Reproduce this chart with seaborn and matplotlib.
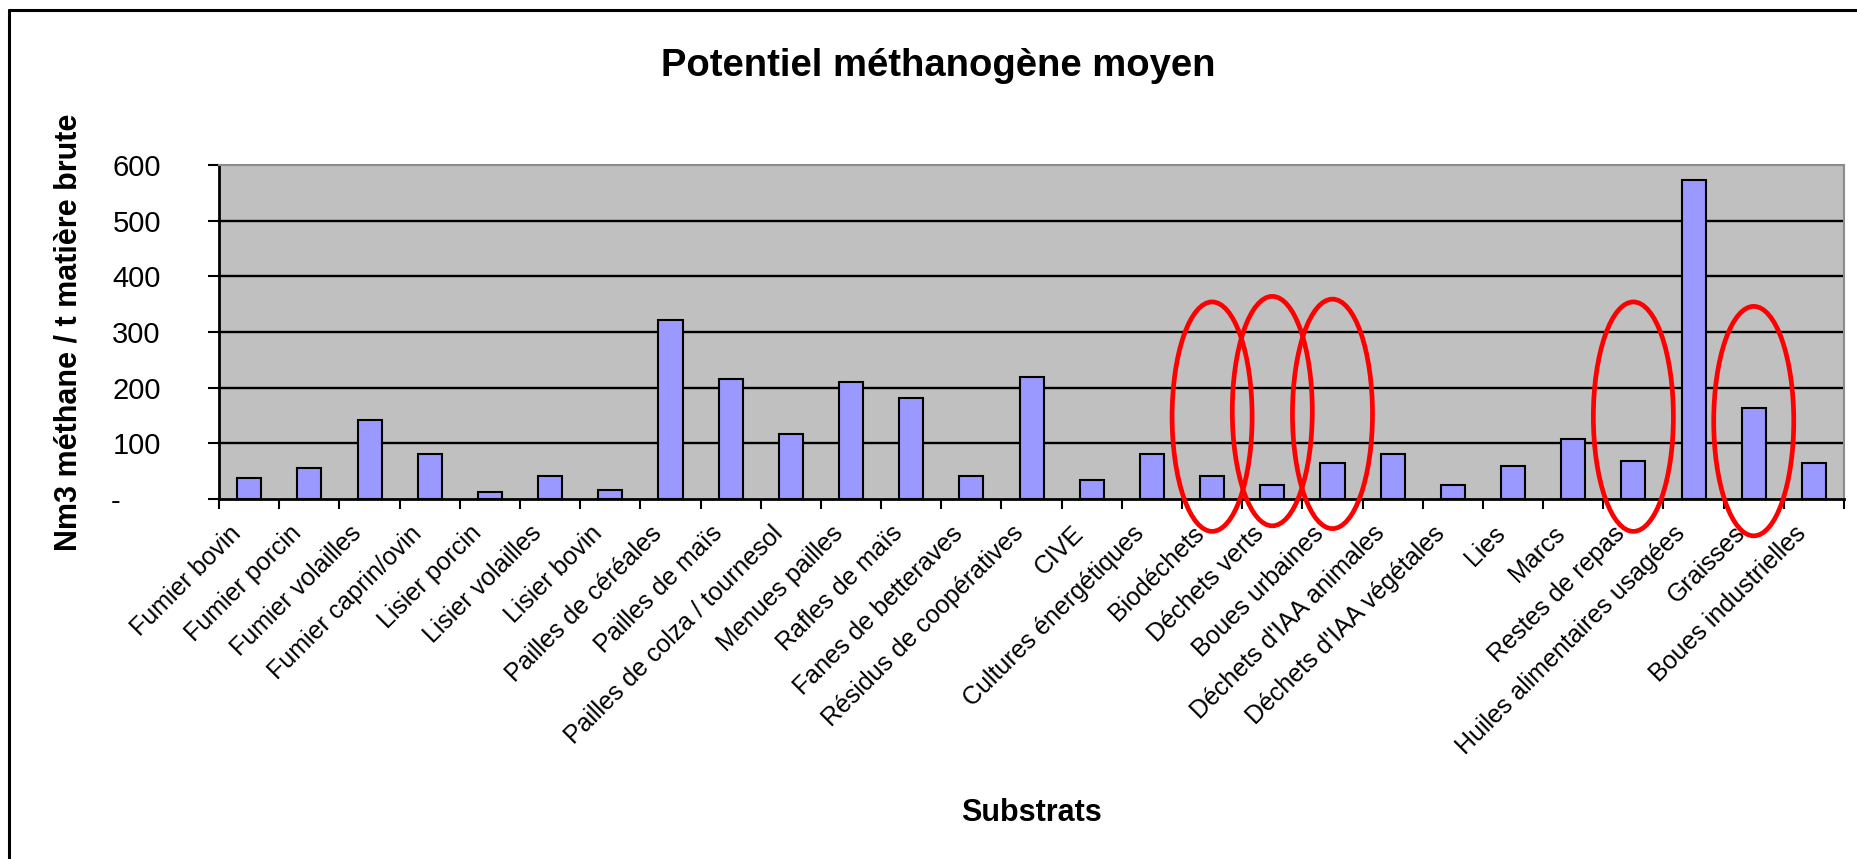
import matplotlib
matplotlib.use("Agg")
import matplotlib.pyplot as plt
import matplotlib.transforms as mtransforms
import seaborn as sns
from matplotlib.patches import Ellipse
from matplotlib.lines import Line2D

# Data
substrats = [
    "Fumier bovin", "Fumier porcin", "Fumier volailles", "Fumier caprin/ovin",
    "Lisier porcin", "Lisier volailles", "Lisier bovin", "Pailles de céréales",
    "Pailles de maïs", "Pailles de colza / tournesol", "Menues pailles",
    "Rafles de maïs", "Fanes de betteraves", "Résidus de coopératives", "CIVE",
    "Cultures énergétiques", "Biodéchets", "Déchets verts", "Boues urbaines",
    "Déchets d'IAA animales", "Déchets d'IAA végétales", "Lies", "Marcs",
    "Restes de repas", "Huiles alimentaires usagées", "Graisses",
    "Boues industrielles",
]
potentiel = [38, 55, 142, 81, 13, 42, 17, 322, 215, 116, 211, 181, 42, 219,
             34, 81, 42, 25, 64, 81, 25, 60, 107, 68, 573, 164, 64]
y_ticks = [0, 100, 200, 300, 400, 500, 600]
y_tick_labels = ["-     ", "100", "200", "300", "400", "500", "600"]
surlignes = ["Biodéchets", "Déchets verts", "Boues urbaines",
             "Restes de repas", "Graisses"]

sns.set_style("white")
plt.rcParams["font.family"] = ["Liberation Sans", "DejaVu Sans"]
plt.rcParams["text.color"] = "black"
plt.rcParams["axes.labelcolor"] = "black"
plt.rcParams["xtick.color"] = "black"
plt.rcParams["ytick.color"] = "black"

fig = plt.figure(figsize=(18.57, 8.59), dpi=100)
ax = fig.add_axes([0.118, 0.419, 0.875, 0.389])

sns.barplot(x=substrats, y=potentiel, color="#9999FF", saturation=1,
            edgecolor="black", linewidth=1.5, width=0.4, ax=ax, zorder=3)

ax.set_facecolor("#C0C0C0")
ax.set_xlim(-0.5, len(substrats) - 0.5)
ax.set_ylim(0, 600)
ax.set_axisbelow(True)
for v in y_ticks[1:-1]:
    ax.axhline(v, color="black", lw=1.7, zorder=1)

for side in ["left", "bottom"]:
    ax.spines[side].set_color("black")
    ax.spines[side].set_linewidth(2)
for side in ["top", "right"]:
    ax.spines[side].set_color("#8C8C8C")
    ax.spines[side].set_linewidth(1.5)

ax.set_yticks(y_ticks)
ax.set_yticklabels(y_tick_labels, fontsize=21)
ax.tick_params(axis="y", direction="out", length=8, width=1.5, pad=34,
               color="black", left=True)

# tick marks on category boundaries, labels on bar centres
ax.set_xticks(range(len(substrats)))
ax.set_xticklabels(substrats, rotation=45, ha="right", va="center",
                   rotation_mode="anchor", fontsize=18)
ax.tick_params(axis="x", which="major", length=0, pad=22)
ax.set_xticks([i - 0.5 for i in range(len(substrats) + 1)], minor=True)
ax.tick_params(axis="x", which="minor", direction="out", length=7,
               width=1.5, color="black", bottom=True)
shift = mtransforms.ScaledTranslation(-0.12, 0, fig.dpi_scale_trans)
for lab in ax.get_xticklabels():
    lab.set_transform(lab.get_transform() + shift)

ax.set_xlabel("Substrats", fontsize=22, fontweight="bold")
ax.xaxis.set_label_coords(0.5, -0.895)
ax.set_ylabel("Nm3 méthane / t matière brute", fontsize=22, fontweight="bold")
ax.yaxis.set_label_coords(-0.0835, 0.5)

fig.text(0.505, 0.923, "Potentiel méthanogène moyen", ha="center",
         va="center", fontsize=27.5, fontweight="bold")

# red ellipses drawn around highlighted substrates
centres = [148, 158, 153, 148, 140]
for nom, c in zip(surlignes, centres):
    i = substrats.index(nom)
    ax.add_patch(Ellipse((i, c), width=1.33, height=412, fill=False,
                         edgecolor="#FF0000", lw=3.4, clip_on=False, zorder=5))

# outer frame of the chart
x0, y1 = 9 / 1857, 1 - 10 / 859
fig.add_artist(Line2D([x0, x0], [0, y1], color="black", lw=2.2))
fig.add_artist(Line2D([x0, 1], [y1, y1], color="black", lw=2.2))

fig.savefig("out.png", dpi=100)
